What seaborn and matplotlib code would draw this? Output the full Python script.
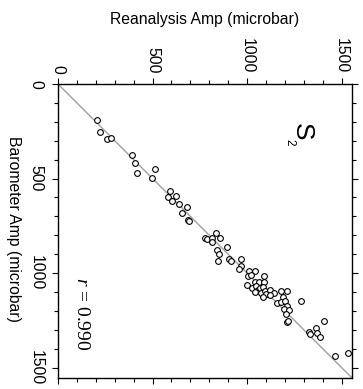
import numpy as np
import pandas as pd
import matplotlib
matplotlib.use("Agg")
import matplotlib.pyplot as plt
from matplotlib.ticker import MultipleLocator
import seaborn as sns

# S2 amplitude: reanalysis vs barometer (microbar)
reanalysis = [204, 222, 257, 280, 389, 405, 419, 512, 498, 595,
              581, 602, 625, 640, 680, 658, 690, 693, 780, 788,
              812, 838, 855, 815, 841, 850, 846, 896, 903, 913,
              966, 970, 956, 1010, 1040, 1005, 1019, 1089, 1040, 1061,
              1089, 1002, 1026, 1049, 1058, 1040, 1070, 1084, 1076, 1093,
              1102, 1084, 1123, 1140, 1119, 1181, 1211, 1190, 1158, 1177,
              1202, 1283, 1211, 1193, 1221, 1204, 1211, 1218, 1325, 1331,
              1362, 1371, 1387, 1408, 1466, 1533]
barometer = [190, 252, 293, 286, 376, 418, 471, 450, 499, 564,
             598, 617, 591, 635, 651, 682, 718, 723, 813, 820,
             816, 790, 816, 834, 878, 901, 935, 864, 927, 936,
             927, 963, 977, 989, 988, 1016, 1010, 1016, 1049, 1046,
             1049, 1063, 1078, 1069, 1090, 1099, 1081, 1072, 1107, 1093,
             1112, 1125, 1090, 1104, 1116, 1095, 1095, 1125, 1157, 1155,
             1148, 1148, 1174, 1190, 1194, 1218, 1257, 1254, 1310, 1323,
             1289, 1319, 1340, 1252, 1439, 1421]
r_value = 0.990
amp_max = 1555
tick_major = 500
tick_minor = 100

df = pd.DataFrame({"Reanalysis": reanalysis, "Barometer": barometer})

sns.set_style("ticks")
plt.rcParams["font.family"] = ["Liberation Sans", "DejaVu Sans"]
plt.rcParams["mathtext.fontset"] = "custom"
plt.rcParams["mathtext.it"] = "Liberation Serif:italic"
plt.rcParams["mathtext.rm"] = "Liberation Serif"
plt.rcParams["axes.edgecolor"] = "black"
plt.rcParams["axes.linewidth"] = 1.0
plt.rcParams["text.color"] = "black"
plt.rcParams["axes.labelcolor"] = "black"
plt.rcParams["xtick.color"] = "black"
plt.rcParams["ytick.color"] = "black"

fig = plt.figure(figsize=(3.63, 3.89), dpi=100)
ax = fig.add_axes([58 / 363, 11 / 389, 294 / 363, 294 / 389])

# 1:1 line
ax.axline((0, 0), slope=1, color="#a0a0a0", lw=1.0, zorder=1)

sns.scatterplot(data=df, x="Reanalysis", y="Barometer", ax=ax,
                marker="o", s=17, facecolor="white", edgecolor="black",
                linewidth=0.8, zorder=3)

ax.set_xlim(0, amp_max)
ax.set_ylim(amp_max, 0)

for axis in (ax.xaxis, ax.yaxis):
    axis.set_major_locator(MultipleLocator(tick_major))
    axis.set_minor_locator(MultipleLocator(tick_minor))

ax.xaxis.tick_top()
ax.tick_params(axis="x", which="both", top=True, bottom=True,
               labeltop=True, labelbottom=False, direction="out")
ax.tick_params(axis="y", which="both", left=True, right=True,
               labelleft=True, labelright=False, direction="out")
ax.tick_params(which="major", length=4, width=0.8, labelsize=11.3,
               labelrotation=270)
ax.tick_params(which="minor", length=2.6, width=0.8)
ax.tick_params(axis="x", which="major", pad=3.5)
ax.tick_params(axis="y", which="major", pad=6.5)
for lbl in ax.get_yticklabels():
    lbl.set_va("center")

ax.set_xlabel("Reanalysis Amp (microbar)", fontsize=11.3)
ax.xaxis.set_label_position("top")
ax.xaxis.set_label_coords(0.5, 1.221)
ax.xaxis.label.set_va("center")

ax.set_ylabel("Barometer Amp (microbar)", fontsize=11.3, rotation=270,
              rotation_mode="anchor", ha="center", va="center")
ax.yaxis.set_label_coords(-0.152, 0.5085)

ax.text(0.829, 0.838, "S", transform=ax.transAxes, fontsize=19,
        rotation=270, ha="center", va="center")
ax.text(0.786, 0.801, "2", transform=ax.transAxes, fontsize=8.5,
        rotation=270, ha="center", va="center")
ax.text(0.080, 0.219, r"$\mathit{r}$ = %.3f" % r_value, transform=ax.transAxes,
        fontsize=14, family=["Liberation Serif", "DejaVu Serif"],
        rotation=270, ha="center", va="center")

fig.savefig("out.png", dpi=100)
